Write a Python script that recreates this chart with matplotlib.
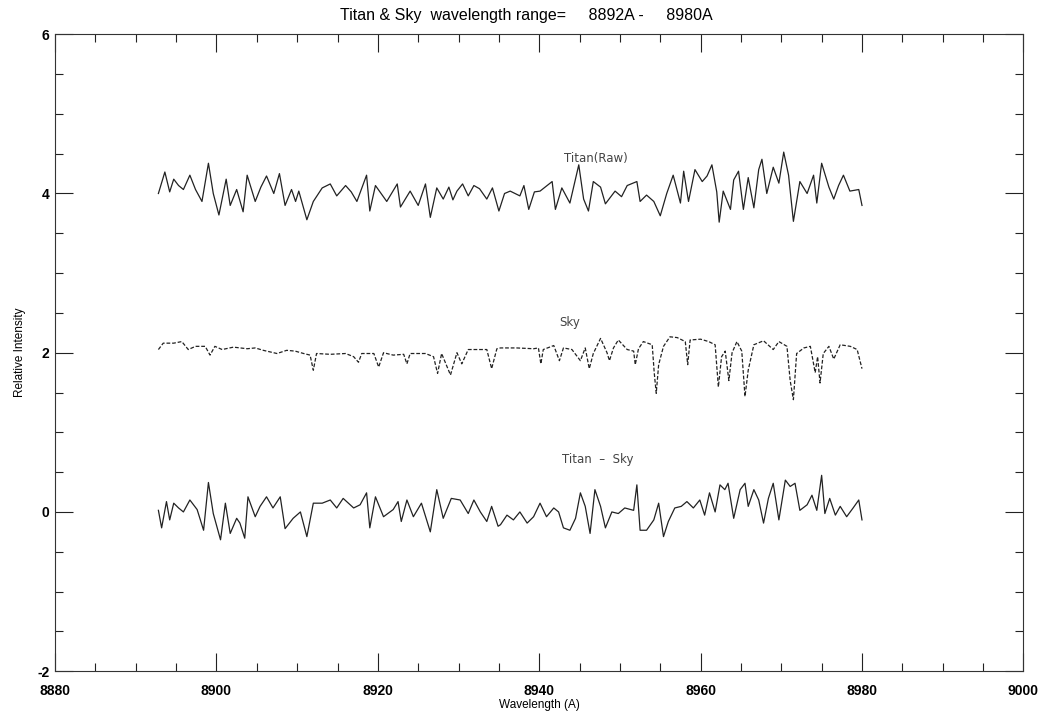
import numpy as np
import matplotlib.pyplot as plt
from matplotlib.ticker import MultipleLocator

plt.rcParams['axes.unicode_minus'] = False

# Titan raw spectrum (offset to ~4)
titan_wl = [8892.8, 8893.6, 8894.2, 8894.7, 8895.3, 8895.9, 8896.7, 8897.4, 8898.2, 8899.0, 8899.6,
            8900.3, 8901.2, 8901.7, 8902.5, 8903.3, 8903.8, 8904.8, 8905.5, 8906.2, 8907.1, 8907.8,
            8908.5, 8909.3, 8909.8, 8910.2, 8911.2, 8912.0, 8913.1, 8914.1, 8914.9, 8916.0, 8916.7,
            8917.4, 8918.6, 8919.0, 8919.7, 8920.4, 8921.1, 8922.4, 8922.8, 8924.0, 8925.0, 8925.9,
            8926.5, 8927.3, 8928.1, 8928.8, 8929.3, 8929.8, 8930.5, 8931.2, 8931.9, 8932.6, 8933.5,
            8934.2, 8935.0, 8935.7, 8936.4, 8937.6, 8938.1, 8938.7, 8939.4, 8940.1, 8941.6, 8942.0,
            8942.8, 8943.8, 8944.9, 8945.5, 8946.1, 8946.7, 8947.6, 8948.2, 8949.4, 8950.2, 8950.9,
            8952.1, 8952.5, 8953.3, 8954.2, 8955.0, 8955.8, 8956.6, 8957.5, 8957.9, 8958.5, 8959.3,
            8960.2, 8960.8, 8961.4, 8962.0, 8962.3, 8962.8, 8963.7, 8964.1, 8964.7, 8965.3, 8965.9,
            8966.6, 8967.2, 8967.6, 8968.2, 8969.0, 8969.7, 8970.3, 8970.9, 8971.5, 8972.3, 8973.2,
            8974.0, 8974.4, 8975.0, 8975.9, 8976.5, 8977.1, 8977.7, 8978.5, 8979.6, 8980.0]
titan_raw = [4.00, 4.27, 4.02, 4.18, 4.10, 4.05, 4.23, 4.05, 3.90, 4.38, 4.00,
             3.73, 4.18, 3.85, 4.05, 3.77, 4.23, 3.90, 4.08, 4.22, 4.00, 4.25,
             3.85, 4.05, 3.90, 4.03, 3.67, 3.90, 4.07, 4.12, 3.97, 4.10, 4.02,
             3.90, 4.23, 3.78, 4.10, 4.00, 3.90, 4.12, 3.83, 4.03, 3.85, 4.12,
             3.70, 4.07, 3.93, 4.08, 3.92, 4.03, 4.12, 3.97, 4.10, 4.06, 3.93,
             4.07, 3.78, 4.00, 4.03, 3.97, 4.10, 3.80, 4.02, 4.03, 4.15, 3.80,
             4.07, 3.88, 4.36, 3.93, 3.78, 4.15, 4.08, 3.87, 4.03, 3.96, 4.10,
             4.15, 3.90, 3.98, 3.90, 3.72, 4.00, 4.23, 3.88, 4.28, 3.90, 4.30,
             4.15, 4.22, 4.36, 4.02, 3.64, 4.03, 3.80, 4.17, 4.28, 3.80, 4.20,
             3.82, 4.30, 4.43, 4.00, 4.33, 4.13, 4.52, 4.23, 3.65, 4.15, 4.00,
             4.23, 3.88, 4.38, 4.08, 3.93, 4.10, 4.23, 4.03, 4.05, 3.85]

# Sky spectrum (offset to ~2), narrow absorption lines
sky_wl = [8892.8, 8893.4, 8894.7, 8895.7, 8896.5, 8897.4, 8898.6, 8899.2, 8899.8, 8900.7,
          8902.1, 8903.8, 8904.8, 8905.8, 8907.5, 8908.7, 8909.75, 8910.8, 8911.6, 8912.0,
          8912.4, 8914.1, 8916.0, 8917.0, 8917.6, 8918.0, 8919.5, 8920.1, 8920.7, 8921.9,
          8923.2, 8923.6, 8924.0, 8925.9, 8926.9, 8927.4, 8927.9, 8929.0, 8929.8, 8930.4,
          8931.2, 8933.5, 8934.1, 8934.75, 8935.2, 8937.2, 8939.3, 8939.9, 8940.2, 8940.5,
          8941.8, 8942.5, 8943.0, 8944.05, 8945.1, 8945.7, 8946.2, 8946.7, 8947.6, 8948.4,
          8948.7, 8949.2, 8949.8, 8950.9, 8951.7, 8951.9, 8952.3, 8952.9, 8954.0, 8954.25,
          8954.5, 8954.8, 8955.4, 8956.2, 8957.1, 8958.1, 8958.4, 8958.7, 8960.0, 8961.0,
          8961.8, 8962.2, 8962.6, 8963.05, 8963.5, 8963.9, 8964.5, 8965.1, 8965.5, 8965.9,
          8966.6, 8967.8, 8969.0, 8969.7, 8970.7, 8971.1, 8971.5, 8971.9, 8972.8, 8973.6,
          8974.2, 8974.5, 8974.8, 8975.2, 8975.9, 8976.5, 8977.3, 8978.55, 8979.4, 8980.0]
sky = [2.04, 2.12, 2.12, 2.14, 2.04, 2.08, 2.08, 1.97, 2.08, 2.04,
       2.07, 2.05, 2.06, 2.03, 1.99, 2.03, 2.02, 1.99, 1.97, 1.78,
       1.99, 1.98, 1.99, 1.95, 1.88, 1.99, 1.99, 1.82, 2.00, 1.97,
       1.98, 1.86, 1.99, 1.99, 1.95, 1.74, 1.99, 1.72, 2.00, 1.86,
       2.04, 2.04, 1.80, 2.05, 2.06, 2.06, 2.05, 2.06, 1.86, 2.04,
       2.09, 1.90, 2.06, 2.04, 1.90, 2.06, 1.80, 1.99, 2.18, 2.00,
       1.90, 2.06, 2.16, 2.04, 2.02, 1.85, 2.05, 2.14, 2.10, 1.75,
       1.49, 1.85, 2.08, 2.20, 2.19, 2.14, 1.85, 2.16, 2.17, 2.14,
       2.10, 1.57, 1.95, 2.02, 1.65, 2.00, 2.14, 2.02, 1.45, 1.78,
       2.10, 2.15, 2.04, 2.14, 2.08, 1.65, 1.41, 1.99, 2.06, 2.08,
       1.75, 1.95, 1.62, 1.99, 2.08, 1.92, 2.10, 2.08, 2.04, 1.80]

# Titan minus sky (offset to ~0)
diff_wl = [8892.8, 8893.2, 8893.8, 8894.2, 8894.7, 8895.3, 8895.9, 8896.7, 8897.6, 8898.4,
           8899.0, 8899.6, 8900.5, 8901.1, 8901.7, 8902.5, 8902.9, 8903.5, 8903.9, 8904.8,
           8905.4, 8906.2, 8907.0, 8907.9, 8908.5, 8909.5, 8910.4, 8911.2, 8912.0, 8913.1,
           8914.1, 8914.9, 8915.7, 8917.0, 8917.8, 8918.6, 8919.0, 8919.7, 8920.7, 8921.9,
           8922.5, 8922.9, 8923.6, 8924.4, 8925.4, 8926.5, 8927.3, 8928.1, 8929.1, 8930.2,
           8931.2, 8931.9, 8932.7, 8933.5, 8934.1, 8934.9, 8935.2, 8936.0, 8936.8, 8937.6,
           8938.5, 8939.3, 8940.1, 8940.9, 8941.8, 8942.4, 8943.0, 8943.8, 8944.5, 8945.1,
           8945.7, 8946.3, 8946.9, 8947.6, 8948.2, 8949.0, 8949.8, 8950.6, 8951.7, 8952.1,
           8952.5, 8953.3, 8954.2, 8954.8, 8955.4, 8956.0, 8956.8, 8957.6, 8958.3, 8959.1,
           8959.9, 8960.5, 8961.1, 8961.8, 8962.4, 8963.0, 8963.4, 8964.1, 8964.9, 8965.5,
           8965.9, 8966.6, 8967.2, 8967.8, 8968.4, 8969.0, 8969.7, 8970.5, 8971.1, 8971.7,
           8972.3, 8973.2, 8973.8, 8974.4, 8975.0, 8975.4, 8976.0, 8976.7, 8977.3, 8978.1,
           8978.9, 8979.6, 8980.0]
titan_minus_sky = [0.02, -0.20, 0.13, -0.10, 0.11, 0.05, 0.00, 0.15, 0.03, -0.23,
                   0.37, -0.02, -0.35, 0.11, -0.27, -0.08, -0.14, -0.33, 0.19, -0.06,
                   0.07, 0.19, 0.05, 0.19, -0.21, -0.08, 0.00, -0.31, 0.11, 0.11,
                   0.15, 0.05, 0.17, 0.05, 0.09, 0.24, -0.20, 0.19, -0.06, 0.03,
                   0.13, -0.12, 0.15, -0.06, 0.11, -0.25, 0.28, -0.08, 0.17, 0.15,
                   -0.02, 0.15, 0.00, -0.12, 0.07, -0.18, -0.16, -0.04, -0.10, 0.00,
                   -0.14, -0.06, 0.11, -0.06, 0.05, 0.00, -0.20, -0.23, -0.08, 0.24,
                   0.07, -0.27, 0.28, 0.07, -0.20, 0.00, -0.02, 0.05, 0.02, 0.34,
                   -0.23, -0.23, -0.10, 0.11, -0.31, -0.12, 0.05, 0.07, 0.13, 0.05,
                   0.15, -0.04, 0.24, 0.00, 0.34, 0.28, 0.36, -0.08, 0.28, 0.36,
                   0.07, 0.28, 0.15, -0.14, 0.17, 0.36, -0.10, 0.40, 0.32, 0.36,
                   0.02, 0.09, 0.21, 0.02, 0.46, -0.02, 0.17, -0.04, 0.07, -0.06,
                   0.05, 0.15, -0.10]

fig = plt.figure(figsize=(10.4, 7.14), dpi=100)
ax = fig.add_axes([0.053, 0.060, 0.931, 0.892])

ax.plot(titan_wl, titan_raw, color='#222222', linewidth=0.9)
ax.plot(sky_wl, sky, color='#222222', linewidth=0.9, linestyle=(0, (3, 1.5)))
ax.plot(diff_wl, titan_minus_sky, color='#222222', linewidth=0.9)

# curve labels
lab = dict(ha='center', va='center', fontsize=8.5, color='#444444', family='DejaVu Sans')
ax.text(8947.0, 4.44, 'Titan(Raw)', **lab)
ax.text(8943.8, 2.38, 'Sky', **lab)
ax.text(8947.3, 0.66, 'Titan  \u2013  Sky', **lab)

ax.set_xlim(8880, 9000)
ax.set_ylim(-2, 6)
ax.xaxis.set_major_locator(MultipleLocator(20))
ax.xaxis.set_minor_locator(MultipleLocator(5))
ax.yaxis.set_major_locator(MultipleLocator(2))
ax.yaxis.set_minor_locator(MultipleLocator(0.5))
ax.tick_params(which='both', direction='in', top=True, right=True, width=0.8, color='#222222')
ax.tick_params(which='major', length=13, labelsize=10, pad=9)
ax.tick_params(which='minor', length=6)
for lbl in ax.get_xticklabels() + ax.get_yticklabels():
    lbl.set_fontweight('bold')
    lbl.set_family('Liberation Sans')
ax.tick_params(axis='y', pad=4)
for sp in ax.spines.values():
    sp.set_linewidth(0.8)
    sp.set_color('#333333')

ax.set_title('Titan & Sky  wavelength range=     8892A -     8980A',
             fontsize=11.5, family='Liberation Sans', pad=10, x=0.4866)
ax.set_xlabel('Wavelength (A)', fontsize=8.5, family='Liberation Sans', labelpad=1)
ax.set_ylabel('Relative Intensity', fontsize=8.5, family='Liberation Sans', labelpad=8)

fig.savefig('out.png', dpi=100)
